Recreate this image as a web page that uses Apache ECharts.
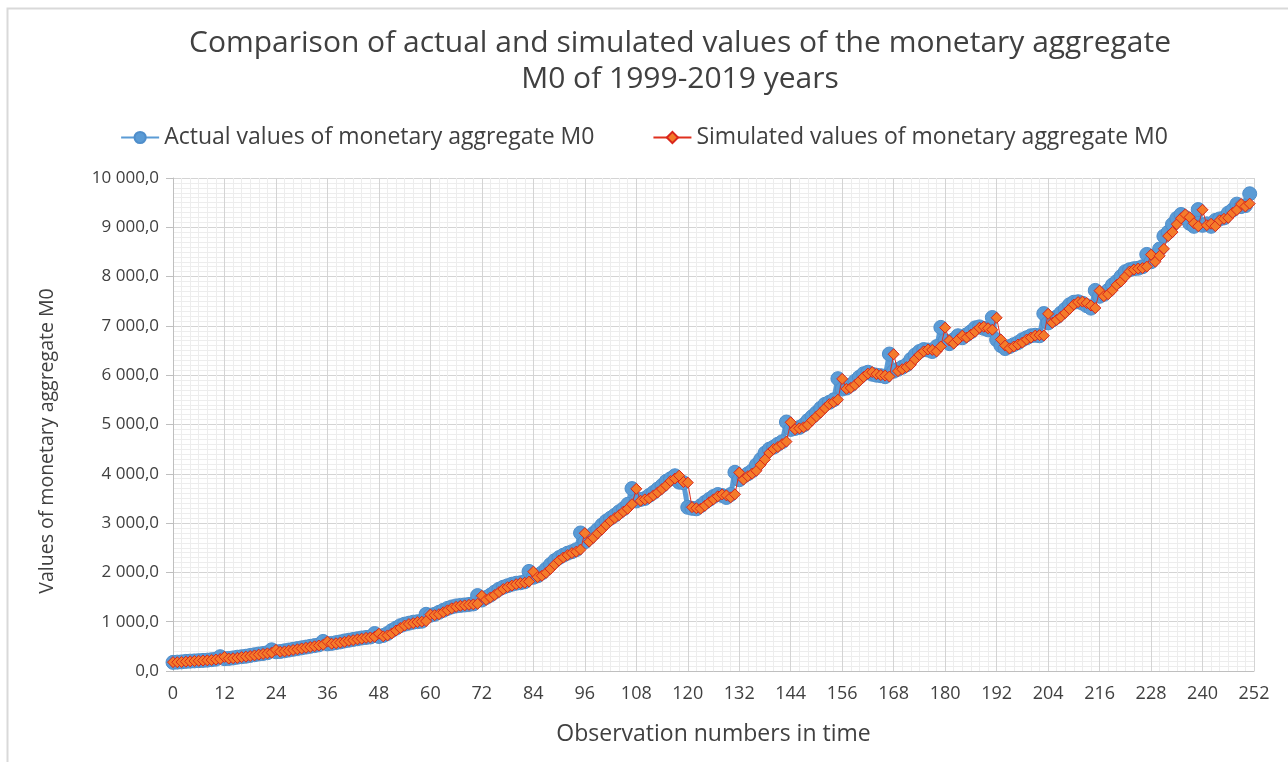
<!DOCTYPE html>
<html>
<head>
<meta charset="utf-8">
<title>M0 actual vs simulated</title>
<script src="https://cdn.jsdelivr.net/npm/echarts@6/dist/echarts.min.js"></script>
<style>
  html, body { margin: 0; padding: 0; background: #fff; }
  #chart { width: 1288px; height: 762px; }
</style>
</head>
<body>
<div id="chart"></div>
<script>
// observation numbers 0..251 (monthly, 1999-2019)
const actualValues = [
  175, 180, 185, 195, 200, 205, 210, 215, 220, 230, 240, 290,
  250, 255, 265, 280, 290, 300, 315, 330, 345, 355, 370, 430,
  390, 395, 410, 425, 440, 455, 470, 485, 500, 515, 530, 600,
  550, 560, 575, 590, 610, 625, 640, 655, 670, 680, 690, 760,
  700, 720, 760, 820, 870, 920, 950, 970, 990, 1000, 1010, 1150,
  1130, 1150, 1190, 1230, 1270, 1300, 1320, 1330, 1340, 1350, 1360, 1530,
  1440, 1490, 1540, 1600, 1660, 1700, 1730, 1760, 1780, 1790, 1810, 2020,
  1900, 1930, 1990, 2070, 2160, 2240, 2300, 2350, 2390, 2420, 2460, 2800,
  2620, 2700, 2790, 2870, 2960, 3040, 3100, 3160, 3230, 3290, 3380, 3700,
  3450, 3480, 3500, 3560, 3620, 3690, 3760, 3850, 3900, 3960, 3830, 3820,
  3320, 3300, 3290, 3350, 3420, 3480, 3540, 3580, 3560, 3520, 3580, 4030,
  3880, 3950, 4000, 4060, 4180, 4290, 4420, 4500, 4540, 4600, 4650, 5050,
  4900, 4920, 4940, 4990, 5080, 5160, 5240, 5330, 5410, 5450, 5500, 5930,
  5720, 5740, 5800, 5880, 5960, 6030, 6060, 6020, 6000, 5990, 5970, 6430,
  6080, 6120, 6160, 6210, 6320, 6410, 6480, 6520, 6510, 6480, 6580, 6970,
  6700, 6640, 6720, 6800, 6760, 6820, 6880, 6960, 6980, 6950, 6920, 7170,
  6720, 6600, 6540, 6580, 6620, 6660, 6720, 6760, 6800, 6810, 6800, 7250,
  7060, 7120, 7180, 7260, 7340, 7430, 7480, 7490, 7460, 7410, 7360, 7720,
  7600, 7640, 7720, 7830, 7900, 8000, 8100, 8140, 8160, 8170, 8200, 8450,
  8300, 8420, 8560, 8820, 8900, 9060, 9180, 9260, 9200, 9080, 9020, 9360,
  9040, 9070, 9020, 9140, 9170, 9190, 9290, 9350, 9470, 9420, 9440, 9680
]

const simulatedValues = [
  180, 178, 183, 190, 196, 203, 206, 212, 216, 223, 232, 244,
  286, 252, 258, 266, 282, 291, 303, 316, 332, 346, 358, 372,
  428, 392, 398, 411, 427, 441, 457, 471, 487, 501, 517, 532,
  596, 553, 562, 577, 592, 612, 626, 642, 656, 672, 681, 693,
  756, 703, 722, 763, 821, 872, 921, 952, 971, 992, 1001, 1012,
  1145, 1133, 1152, 1192, 1231, 1272, 1301, 1322, 1331, 1342, 1351, 1363,
  1525, 1443, 1492, 1542, 1601, 1662, 1701, 1732, 1761, 1782, 1791, 1813,
  2015, 1903, 1932, 1992, 2071, 2162, 2241, 2302, 2351, 2392, 2421, 2463,
  2795, 2623, 2702, 2792, 2871, 2962, 3041, 3102, 3161, 3232, 3291, 3383,
  3695, 3453, 3482, 3503, 3562, 3623, 3692, 3763, 3852, 3903, 3962, 3833,
  3822, 3323, 3302, 3293, 3352, 3423, 3482, 3543, 3582, 3563, 3522, 3583,
  4025, 3883, 3952, 4003, 4062, 4183, 4292, 4423, 4502, 4543, 4602, 4653,
  5045, 4903, 4922, 4943, 4992, 5083, 5162, 5243, 5332, 5413, 5452, 5503,
  5925, 5723, 5742, 5803, 5882, 5963, 6032, 6063, 6022, 6003, 5992, 5973,
  6425, 6083, 6122, 6163, 6212, 6323, 6412, 6483, 6522, 6513, 6482, 6583,
  6965, 6703, 6642, 6723, 6802, 6763, 6822, 6883, 6962, 6983, 6952, 6923,
  7165, 6723, 6602, 6543, 6582, 6623, 6662, 6723, 6762, 6803, 6812, 6803,
  7245, 7063, 7122, 7183, 7262, 7343, 7432, 7483, 7492, 7463, 7412, 7363,
  7715, 7603, 7642, 7723, 7832, 7903, 8002, 8103, 8142, 8163, 8172, 8203,
  8445, 8303, 8422, 8563, 8822, 8903, 9062, 9183, 9262, 9203, 9082, 9023,
  9355, 9043, 9072, 9023, 9142, 9173, 9192, 9293, 9352, 9473, 9422, 9480
]

const seriesNames = [
  'Actual values of monetary aggregate M0',
  'Simulated values of monetary aggregate M0'
]

const FONT = '"Open Sans", "Liberation Sans", sans-serif'
const TEXT_COLOR = '#404040'

function toPairs(values) {
  return values.map((v, i) => [i, v])
}

// 10 000,0 style numbers
function formatValue(v) {
  const parts = Math.round(v).toString().replace(/\B(?=(\d{3})+(?!\d))/g, ' ')
  return parts + ',0'
}

const chart = echarts.init(document.getElementById('chart'), null, { renderer: 'canvas' })

chart.setOption({
  animation: false,
  backgroundColor: '#fff',
  textStyle: { fontFamily: FONT, color: TEXT_COLOR },
  title: {
    text: 'Comparison of actual and simulated values of the monetary aggregate\nM0 of 1999-2019 years',
    left: 675,
    textAlign: 'center',
    top: 20,
    textStyle: {
      fontFamily: FONT,
      fontSize: 30,
      fontWeight: 'normal',
      color: TEXT_COLOR,
      lineHeight: 36,
    },
  },
  graphic: [
    {
      type: 'rect',
      shape: { x: 7.5, y: 8.5, width: 1400, height: 900 },
      style: { fill: 'none', stroke: '#d9d9d9', lineWidth: 2 },
      silent: true,
      z: -10,
    },
    {
      // y axis title, placed like the original (slightly below the plot centre)
      type: 'text',
      x: 47,
      y: 441,
      rotation: Math.PI / 2,
      style: {
        text: 'Values of monetary aggregate M0',
        fontFamily: FONT,
        fontSize: 19.5,
        fill: TEXT_COLOR,
        align: 'center',
        verticalAlign: 'middle',
      },
    },
  ],
  legend: {
    top: 121,
    left: 'center',
    itemGap: 58,
    itemWidth: 38,
    itemHeight: 14,
    textStyle: { fontFamily: FONT, fontSize: 23, color: TEXT_COLOR },
    data: seriesNames,
  },
  grid: {
    left: 173,
    right: 34,
    top: 178,
    bottom: 91,
    containLabel: false,
  },
  xAxis: {
    type: 'value',
    min: 0,
    max: 252,
    interval: 12,
    name: 'Observation numbers in time',
    nameLocation: 'middle',
    nameGap: 52,
    nameTextStyle: { fontFamily: FONT, fontSize: 23, color: TEXT_COLOR },
    axisLine: { show: true, onZero: false, lineStyle: { color: '#bfbfbf', width: 1 } },
    axisTick: { show: false },
    axisLabel: { fontFamily: FONT, fontSize: 18, color: TEXT_COLOR, margin: 14 },
    splitLine: { show: true, lineStyle: { color: '#d4d4d4', width: 1 } },
    minorTick: { show: false, splitNumber: 6 },
    minorSplitLine: { show: true, lineStyle: { color: '#ededed', width: 1 } },
  },
  yAxis: {
    type: 'value',
    min: 0,
    max: 10000,
    interval: 1000,
    axisLine: { show: true, lineStyle: { color: '#bfbfbf', width: 1 } },
    axisTick: { show: true, length: 7, lineStyle: { color: '#bfbfbf' } },
    axisLabel: {
      fontFamily: FONT,
      fontSize: 17,
      color: TEXT_COLOR,
      margin: 14,
      formatter: formatValue,
    },
    splitLine: { show: true, lineStyle: { color: '#d4d4d4', width: 1 } },
    minorTick: { show: false, splitNumber: 10 },
    minorSplitLine: { show: true, lineStyle: { color: '#ededed', width: 1 } },
  },
  series: [
    {
      name: seriesNames[0],
      type: 'line',
      data: toPairs(actualValues),
      symbol: 'circle',
      symbolSize: 14,
      showAllSymbol: true,
      itemStyle: { color: '#5b9bd5', borderColor: '#4f8ecb', borderWidth: 1 },
      lineStyle: { color: '#5b9bd5', width: 5 },
      z: 2,
    },
    {
      name: seriesNames[1],
      type: 'line',
      data: toPairs(simulatedValues),
      symbol: 'diamond',
      symbolSize: 11,
      showAllSymbol: true,
      itemStyle: { color: '#f47b2a', borderColor: '#d9261c', borderWidth: 1 },
      lineStyle: { color: '#e0301e', width: 1 },
      z: 3,
    },
  ],
})
</script>
</body>
</html>
